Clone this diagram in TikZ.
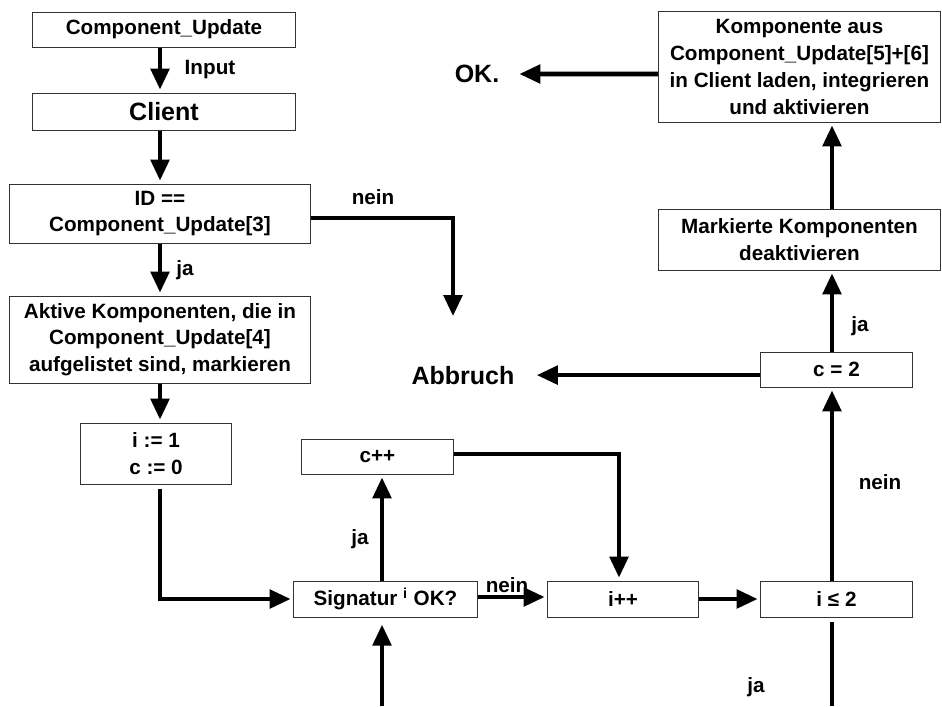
\documentclass[tikz,border=0pt]{standalone}
\usepackage{fontspec}
\setmainfont{Liberation Sans}
\usetikzlibrary{arrows.meta}

\begin{document}
\begin{tikzpicture}[x=0.025cm, y=-0.025cm,
    box/.style={draw=black!80, line width=0.7pt, align=center, inner sep=1pt,
        font=\fontsize{14.7}{19}\selectfont\bfseries},
    lbl/.style={inner sep=0pt, font=\fontsize{14.7}{18.5}\selectfont\bfseries},
    big/.style={inner sep=0pt, font=\fontsize{17.8}{21}\selectfont\bfseries},
    flow/.style={line width=3.3pt, -{Triangle[length=15pt,width=13pt]}, shorten >=2pt}]
    \useasboundingbox (0,0) rectangle (942,706);

    % linke Spalte
    \node[box, minimum width=6.55cm, minimum height=0.875cm] (cu) at (164,29.5) {Component\_Update};
    \node[box, big, inner sep=1pt, minimum width=6.55cm, minimum height=0.925cm] (client) at (164,111.5) {Client};
    \node[box, minimum width=7.5cm, minimum height=1.475cm] (id) at (160,213.5) {ID ==\\Component\_Update[3]};
    \node[box, minimum width=7.5cm, minimum height=2.175cm] (aktiv) at (160,339.5) {Aktive Komponenten, die in\\Component\_Update[4]\\aufgelistet sind, markieren};
    \node[box, minimum width=3.75cm, minimum height=1.525cm] (init) at (156,453.5) {i := 1\\c := 0};

    % Schleife
    \node[box, minimum width=3.775cm, minimum height=0.875cm] (cinc) at (377.5,456.5) {c++};
    \node[box, minimum width=4.575cm, minimum height=0.9cm] (sig) at (385.5,599) {Signatur \textsuperscript{i} OK?};
    \node[box, minimum width=3.75cm, minimum height=0.9cm] (iinc) at (623,599) {i++};
    \node[box, minimum width=3.775cm, minimum height=0.9cm] (icheck) at (836.5,599) {i ≤ 2};

    % rechte Spalte
    \node[box, minimum width=3.775cm, minimum height=0.875cm] (ccheck) at (836.5,369.5) {c = 2};
    \node[box, minimum width=7.05cm, minimum height=1.525cm] (mark) at (799.5,239.5) {Markierte Komponenten\\deaktivieren};
    \node[box, minimum width=7.05cm, minimum height=2.75cm] (load) at (799.5,67) {Komponente aus\\Component\_Update[5]+[6]\\in Client laden, integrieren\\und aktivieren};

    \node[big] (abbruch) at (463,376) {Abbruch};
    \node[big] (ok) at (477,74) {OK.};

    % Beschriftungen
    \node[lbl] (input) at (210,70) {Input};
    \node[lbl] (nein1) at (373,197) {nein};
    \node[lbl] (ja1) at (185,270) {ja};
    \node[lbl] (ja2) at (360,539) {ja};
    \node[lbl] (nein2) at (507,585) {nein};
    \node[lbl] (nein3) at (880,482) {nein};
    \node[lbl] (ja3) at (756,687) {ja};
    \node[lbl] (ja4) at (860,326) {ja};

    \coordinate (col) at (160,0);
    \coordinate (sigcol) at (382,0);
    \coordinate (inccol) at (619,0);
    \coordinate (rcol) at (832,0);
    \coordinate (stop) at (453,319);
    \coordinate (sigin) at (382,706);
    \coordinate (jain) at (832,622);
    \coordinate (jaout) at (832,706);
    \coordinate (cout) at ([yshift=-0.14cm]ccheck.west);

    \draw[flow] (cu.south -| col) -- (client.north -| col);
    \draw[flow] (client.south -| col) -- (id.north -| col);
    \draw[flow] ([yshift=-0.11cm]id.east) -| (stop);
    \draw[flow] (id.south -| col) -- (aktiv.north -| col);
    \draw[flow] (aktiv.south -| col) -- (init.north -| col);
    \draw[flow, shorten <=3pt] (init.south -| col) |- (sig.west);
    \draw[flow] (sig.north -| sigcol) -- (cinc.south -| sigcol);
    \draw[flow] ([yshift=0.06cm]cinc.east) -| (iinc.north -| inccol);
    \draw[flow] ([yshift=0.05cm]sig.east) -- ([yshift=0.05cm]iinc.west);
    \draw[flow] (iinc.east) -- (icheck.west);
    \draw[flow] (icheck.north -| rcol) -- (ccheck.south -| rcol);
    \draw[line width=3.3pt] (jain) -- (jaout);
    \draw[flow, shorten >=5pt] (sigin) -- (sig.south -| sigcol);
    \draw[flow, shorten >=0.55cm] (cout) -- (abbruch.east |- cout);
    \draw[flow] (ccheck.north -| rcol) -- (mark.south -| rcol);
    \draw[flow] (mark.north -| rcol) -- (load.south -| rcol);
    \draw[flow] ([yshift=-0.175cm]load.west) -- ([xshift=0.425cm]ok.east);
\end{tikzpicture}
\end{document}
